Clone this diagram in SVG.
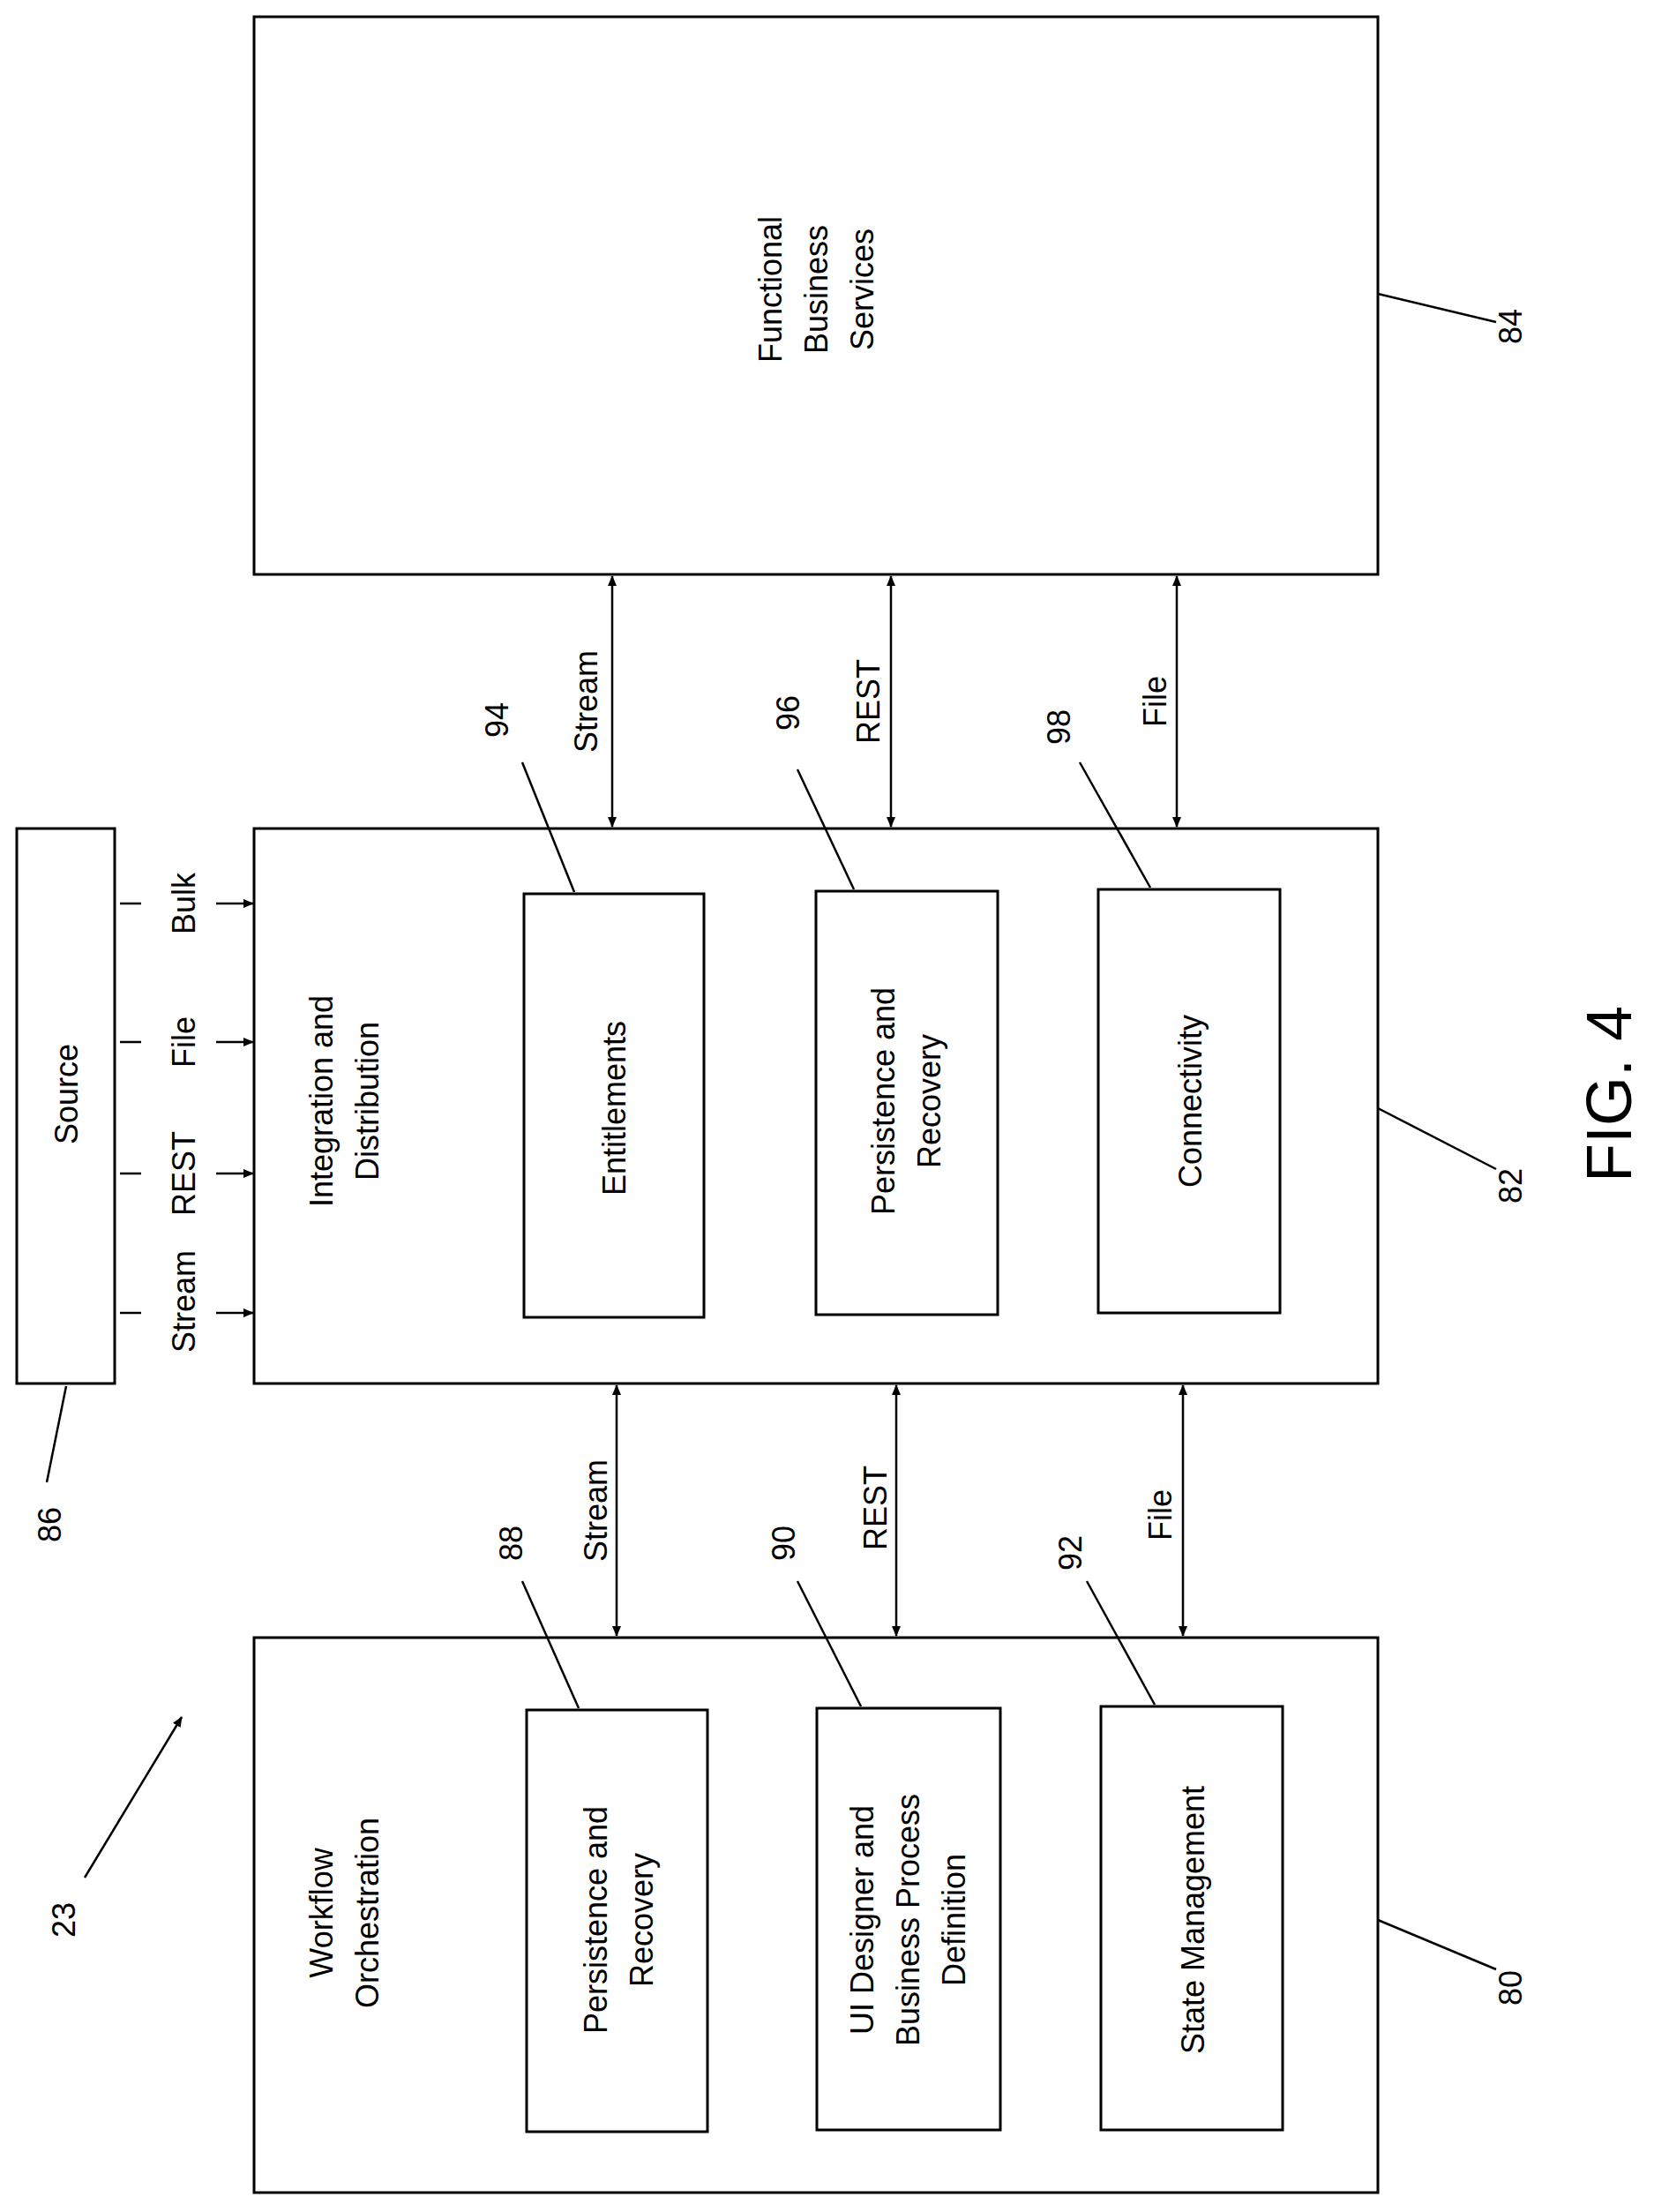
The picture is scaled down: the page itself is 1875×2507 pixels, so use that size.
<svg xmlns="http://www.w3.org/2000/svg" width="1875" height="2507" viewBox="0 0 1875 2507">
<style>
rect{fill:#fff;stroke:#000;stroke-width:3}
line{stroke:#000;stroke-width:2.5}
text{font-family:"Liberation Sans",Arial,sans-serif;font-size:36px;text-anchor:middle;dominant-baseline:central;fill:#000}
</style>
<defs>
<marker id="a" markerWidth="12" markerHeight="10" refX="11" refY="5" orient="auto-start-reverse" markerUnits="userSpaceOnUse"><path d="M0,0 L12,5 L0,10 z"/></marker>
</defs>
<rect width="1875" height="2507" style="stroke:none"/>
<g id="n84"><rect x="288" y="19" width="1274" height="632"/><text transform="translate(925,328) rotate(-90)"><tspan x="0" y="-52">Functional</tspan><tspan x="0" y="0">Business</tspan><tspan x="0" y="52">Services</tspan></text></g>
<g id="n82"><rect x="288" y="939" width="1274" height="629"/><text transform="translate(390,1248) rotate(-90)"><tspan x="0" y="-26">Integration and</tspan><tspan x="0" y="26">Distribution</tspan></text></g>
<g id="n80"><rect x="288" y="1856" width="1274" height="629"/><text transform="translate(390,2168) rotate(-90)"><tspan x="0" y="-26">Workflow</tspan><tspan x="0" y="26">Orchestration</tspan></text></g>
<g id="n86"><rect x="19" y="939" width="111" height="629"/><text transform="translate(75,1240) rotate(-90)">Source</text></g>
<g id="n94"><rect x="594" y="1013" width="204" height="480"/><text transform="translate(696,1256) rotate(-90)">Entitlements</text></g>
<g id="n96"><rect x="925" y="1010" width="206" height="480"/><text transform="translate(1027,1248) rotate(-90)"><tspan x="0" y="-26">Persistence and</tspan><tspan x="0" y="26">Recovery</tspan></text></g>
<g id="n98"><rect x="1245" y="1008" width="206" height="480"/><text transform="translate(1349,1248) rotate(-90)">Connectivity</text></g>
<g id="n88"><rect x="597" y="1938" width="205" height="478"/><text transform="translate(701,2176) rotate(-90)"><tspan x="0" y="-26">Persistence and</tspan><tspan x="0" y="26">Recovery</tspan></text></g>
<g id="n90"><rect x="926" y="1936" width="208" height="478"/><text transform="translate(1029,2176) rotate(-90)"><tspan x="0" y="-52">UI Designer and</tspan><tspan x="0" y="0">Business Process</tspan><tspan x="0" y="52">Definition</tspan></text></g>
<g id="n92"><rect x="1248" y="1934" width="206" height="480"/><text transform="translate(1352,2176) rotate(-90)">State Management</text></g>
<g id="connectors">
<line x1="694" y1="653" x2="694" y2="937" marker-start="url(#a)" marker-end="url(#a)"/>
<line x1="1010" y1="653" x2="1010" y2="937" marker-start="url(#a)" marker-end="url(#a)"/>
<line x1="1334" y1="653" x2="1334" y2="937" marker-start="url(#a)" marker-end="url(#a)"/>
<line x1="699" y1="1570" x2="699" y2="1854" marker-start="url(#a)" marker-end="url(#a)"/>
<line x1="1016" y1="1570" x2="1016" y2="1854" marker-start="url(#a)" marker-end="url(#a)"/>
<line x1="1341" y1="1570" x2="1341" y2="1854" marker-start="url(#a)" marker-end="url(#a)"/>
<line x1="136" y1="1024" x2="160" y2="1024"/><line x1="245" y1="1024" x2="287" y2="1024" marker-end="url(#a)"/>
<line x1="136" y1="1181" x2="160" y2="1181"/><line x1="245" y1="1181" x2="287" y2="1181" marker-end="url(#a)"/>
<line x1="136" y1="1330" x2="160" y2="1330"/><line x1="245" y1="1330" x2="287" y2="1330" marker-end="url(#a)"/>
<line x1="136" y1="1488" x2="160" y2="1488"/><line x1="245" y1="1488" x2="287" y2="1488" marker-end="url(#a)"/>
<line x1="592" y1="864" x2="651" y2="1011"/>
<line x1="904" y1="872" x2="968" y2="1008"/>
<line x1="1224" y1="864" x2="1304" y2="1006"/>
<line x1="592" y1="1792" x2="656" y2="1936"/>
<line x1="904" y1="1792" x2="976" y2="1934"/>
<line x1="1232" y1="1792" x2="1309" y2="1932"/>
<line x1="1562" y1="333" x2="1696" y2="365"/>
<line x1="1562" y1="1256" x2="1696" y2="1325"/>
<line x1="1562" y1="2176" x2="1696" y2="2232"/>
<line x1="75" y1="1571" x2="53" y2="1680"/>
<line x1="96" y1="2128" x2="206" y2="1946" marker-end="url(#a)"/>
</g>
<g id="labels">
<text transform="translate(208,1024) rotate(-90)">Bulk</text>
<text transform="translate(208,1181) rotate(-90)">File</text>
<text transform="translate(208,1330) rotate(-90)">REST</text>
<text transform="translate(208,1475) rotate(-90)">Stream</text>
<text transform="translate(664,795) rotate(-90)">Stream</text>
<text transform="translate(984,795) rotate(-90)">REST</text>
<text transform="translate(1309,795) rotate(-90)">File</text>
<text transform="translate(675,1712) rotate(-90)">Stream</text>
<text transform="translate(992,1709) rotate(-90)">REST</text>
<text transform="translate(1315,1717) rotate(-90)">File</text>
<text transform="translate(563,816) rotate(-90)">94</text>
<text transform="translate(893,808) rotate(-90)">96</text>
<text transform="translate(1200,824) rotate(-90)">98</text>
<text transform="translate(579,1749) rotate(-90)">88</text>
<text transform="translate(888,1749) rotate(-90)">90</text>
<text transform="translate(1213,1760) rotate(-90)">92</text>
<text transform="translate(1712,370) rotate(-90)">84</text>
<text transform="translate(1712,1344) rotate(-90)">82</text>
<text transform="translate(1712,2253) rotate(-90)">80</text>
<text transform="translate(56,1728) rotate(-90)">86</text>
<text transform="translate(72,2176) rotate(-90)">23</text>
<text transform="translate(1824,1240) rotate(-90)" style="font-size:72px">FIG. 4</text>
</g>
</svg>
